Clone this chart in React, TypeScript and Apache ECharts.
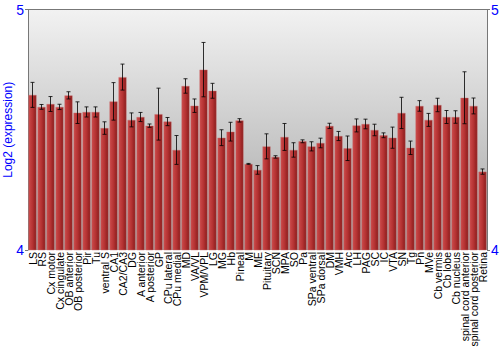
import React, { useEffect, useRef } from "react";
import * as echarts from "echarts";

const categories = [
  "LS", "RS", "Cx motor", "Cx cingulate", "OB anterior", "OB posterior", "Pir", "Tu",
  "ventral S", "CA1", "CA2/CA3", "DG", "A anterior", "A posterior", "GP", "CPu lateral",
  "CPu medial", "MD", "VA/VL", "VPM/VPL", "LG", "MG", "Hb", "Pineal", "M", "ME",
  "Pituitary", "SCN", "MPA", "SO", "Pa", "SPa ventral", "SPa dorsal", "DM", "VMH", "Arc",
  "LH", "PAG", "SC", "IC", "VTA", "SN", "Tg", "Pn", "MVe", "Cb vermis", "Cb lobe",
  "Cb nucleus", "spinal cord anterior", "spinal cord posterior", "Retina",
];

const means = [
  4.645, 4.595, 4.607, 4.595, 4.643, 4.571, 4.574, 4.574,
  4.507, 4.618, 4.719, 4.541, 4.553, 4.517, 4.565, 4.534,
  4.416, 4.682, 4.6, 4.75, 4.662, 4.467, 4.492, 4.539, 4.358, 4.333,
  4.431, 4.387, 4.47, 4.416, 4.452, 4.431, 4.445, 4.516, 4.474, 4.423,
  4.518, 4.524, 4.499, 4.477, 4.467, 4.57, 4.425, 4.599, 4.541, 4.603, 4.553,
  4.553, 4.633, 4.599, 4.326,
];

const errors = [
  0.052, 0.01, 0.031, 0.011, 0.015, 0.045, 0.021, 0.021,
  0.026, 0.078, 0.054, 0.029, 0.019, 0.007, 0.108, 0.017,
  0.06, 0.03, 0.028, 0.113, 0.031, 0.033, 0.039, 0.007, 0.002, 0.018,
  0.052, 0.005, 0.056, 0.03, 0.006, 0.019, 0.02, 0.011, 0.019, 0.051,
  0.027, 0.02, 0.024, 0.01, 0.044, 0.065, 0.028, 0.022, 0.027, 0.028, 0.027,
  0.026, 0.108, 0.033, 0.011,
];

const yTicks = [4, 5];

export default function App() {
  const ref = useRef<HTMLDivElement>(null);

  useEffect(() => {
    if (!ref.current) return;
    const chart = echarts.init(ref.current, null, { renderer: "svg" });
    const errData = means.map((m, i) => [i, m - errors[i], m + errors[i]]);
    const font = "Liberation Sans, Arial, sans-serif";
    chart.setOption({
      animation: false,
      grid: {
        left: 28,
        right: 13,
        top: 9.5,
        bottom: 100,
        containLabel: false,
        outerBoundsMode: "none",
        show: true,
        borderWidth: 0,
        backgroundColor: new echarts.graphic.LinearGradient(0, 0, 0, 1, [
          { offset: 0, color: "#f2f2f2" },
          { offset: 1, color: "#a4a4a4" },
        ]),
      },
      xAxis: {
        type: "category",
        data: categories,
        axisLine: { show: false },
        axisTick: { show: false },
        axisLabel: {
          interval: 0,
          rotate: 90,
          fontSize: 10.5,
          color: "#000",
          fontFamily: font,
          margin: 2,
        },
      },
      yAxis: [
        {
          type: "value",
          min: yTicks[0],
          max: yTicks[1],
          interval: 1,
          position: "left",
          name: "Log2 (expression)",
          nameLocation: "middle",
          nameGap: 14,
          nameMoveOverlap: false,
          nameTextStyle: { color: "#0000ff", fontSize: 12, fontFamily: font },
          axisLine: { show: true, lineStyle: { color: "#777", width: 1 } },
          axisTick: { show: true, length: 3, lineStyle: { color: "#777" } },
          axisLabel: { color: "#0000ff", fontSize: 14, fontFamily: font, margin: 4 },
          splitLine: { show: false },
        },
        {
          type: "value",
          min: yTicks[0],
          max: yTicks[1],
          interval: 1,
          position: "right",
          axisLine: { show: true, lineStyle: { color: "#777", width: 1 } },
          axisTick: { show: true, length: 3, lineStyle: { color: "#777" } },
          axisLabel: { color: "#0000ff", fontSize: 14, fontFamily: font, margin: 4 },
          splitLine: { show: false },
        },
      ],
      graphic: [
        {
          type: "line",
          shape: { x1: 28, y1: 9.5, x2: 487, y2: 9.5 },
          style: { stroke: "#777", lineWidth: 1 },
        },
      ],
      series: [
        {
          type: "bar",
          data: means,
          barCategoryGap: "10%",
          itemStyle: {
            color: new echarts.graphic.LinearGradient(0, 0, 1, 0, [
              { offset: 0, color: "#cc4a4a" },
              { offset: 0.5, color: "#b53333" },
              { offset: 1, color: "#8a1c1c" },
            ]),
            borderColor: "rgba(200,110,110,0.7)",
            borderWidth: 0.6,
          },
        },
        {
          type: "custom",
          data: errData,
          z: 5,
          renderItem: (params: any, api: any) => {
            const x = api.value(0);
            const lo = api.coord([x, api.value(1)]);
            const hi = api.coord([x, api.value(2)]);
            const cap = 2;
            const style = { stroke: "rgba(0,0,0,0.8)", lineWidth: 1 };
            return {
              type: "group",
              children: [
                { type: "line", shape: { x1: lo[0], y1: lo[1], x2: hi[0], y2: hi[1] }, style },
                { type: "line", shape: { x1: lo[0] - cap, y1: lo[1], x2: lo[0] + cap, y2: lo[1] }, style },
                { type: "line", shape: { x1: hi[0] - cap, y1: hi[1], x2: hi[0] + cap, y2: hi[1] }, style },
              ],
            };
          },
        },
      ],
    });
    return () => chart.dispose();
  }, []);

  return (
    <div
      ref={ref}
      style={{ position: "absolute", left: 0, top: 0, width: 500, height: 350 }}
    />
  );
}
